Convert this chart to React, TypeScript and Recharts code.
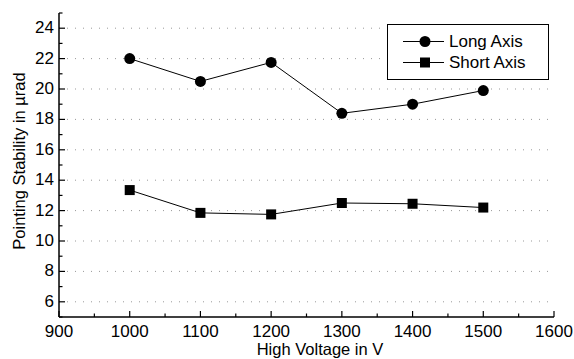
import { CartesianGrid, Label, Legend, Line, LineChart, XAxis, YAxis } from "recharts"

const voltages = [1000, 1100, 1200, 1300, 1400, 1500]
const longAxis = [22.0, 20.5, 21.75, 18.4, 19.0, 19.9]
const shortAxis = [13.35, 11.85, 11.75, 12.5, 12.45, 12.2]

const xMajorTicks = [900, 1000, 1100, 1200, 1300, 1400, 1500, 1600]
const xMinorTicks = [950, 1050, 1150, 1250, 1350, 1450, 1550]
const yMajorTicks = [6, 8, 10, 12, 14, 16, 18, 20, 22, 24]
const yMinorTicks = [5, 7, 9, 11, 13, 15, 17, 19, 21, 23, 25]

const xAllTicks = [...xMajorTicks, ...xMinorTicks].sort((a, b) => a - b)
const yAllTicks = [...yMajorTicks, ...yMinorTicks].sort((a, b) => a - b)

const data = voltages.map((v, i) => ({ voltage: v, long: longAxis[i], short: shortAxis[i] }))

const font = '"Liberation Sans", Arial, Helvetica, sans-serif'
const MAJOR = 6
const MINOR = 3.5

function BottomTick({ x, y, payload }: any) {
  const major = xMajorTicks.includes(payload.value)
  return (
    <g>
      <line x1={x} x2={x} y1={y} y2={y - (major ? MAJOR : MINOR)} stroke="#000" strokeWidth={1.2} />
      {major && (
        <text x={x} y={y + 20} textAnchor="middle" fontSize={17} fontFamily={font} fill="#000">
          {payload.value}
        </text>
      )}
    </g>
  )
}

function TopTick({ x, y, payload }: any) {
  const major = xMajorTicks.includes(payload.value)
  return <line x1={x} x2={x} y1={y} y2={y + (major ? MAJOR : MINOR)} stroke="#000" strokeWidth={1.2} />
}

function LeftTick({ x, y, payload }: any) {
  const major = yMajorTicks.includes(payload.value)
  return (
    <g>
      <line x1={x} x2={x + (major ? MAJOR : MINOR)} y1={y} y2={y} stroke="#000" strokeWidth={1.2} />
      {major && (
        <text x={x - 5} y={y + 5} textAnchor="end" fontSize={17} fontFamily={font} fill="#000">
          {payload.value}
        </text>
      )}
    </g>
  )
}

function RightTick({ x, y, payload }: any) {
  const major = yMajorTicks.includes(payload.value)
  return <line x1={x} x2={x - (major ? MAJOR : MINOR)} y1={y} y2={y} stroke="#000" strokeWidth={1.2} />
}

function SquareDot({ cx, cy, index }: any) {
  return <rect key={`sq-${index}`} x={cx - 5} y={cy - 5} width={10} height={10} fill="#000" />
}

function LegendBox({ payload }: any) {
  return (
    <div
      style={{
        border: "1px solid #000",
        background: "#fff",
        boxSizing: "border-box",
        width: 162,
        height: 56,
        paddingTop: 6,
        fontFamily: font,
        fontSize: 17,
        color: "#000",
      }}
    >
      {(payload || []).map((entry: any) => (
        <div key={entry.value} style={{ display: "flex", alignItems: "center", height: 21 }}>
          <svg width={61} height={21} style={{ display: "block" }}>
            <line x1={15} x2={56} y1={10.5} y2={10.5} stroke="#000" />
            {entry.value === "Long Axis" ? (
              <circle cx={37} cy={10.5} r={5.5} fill="#000" />
            ) : (
              <rect x={32} y={5.5} width={10} height={10} fill="#000" />
            )}
          </svg>
          <span style={{ lineHeight: "21px" }}>{entry.value}</span>
        </div>
      ))}
    </div>
  )
}

export default function App() {
  return (
    <div style={{ position: "absolute", left: 0, top: 0 }}>
      <LineChart width={574} height={359} data={data} margin={{ top: 13, right: 20, left: 0, bottom: 0 }}>
        <CartesianGrid vertical={false} horizontalValues={yMajorTicks} stroke="#999" strokeDasharray="1 7" />
        <XAxis
          dataKey="voltage"
          type="number"
          domain={[900, 1600]}
          ticks={xAllTicks}
          interval={0}
          height={42}
          tickSize={0}
          tickMargin={0}
          tickLine={false}
          tick={<BottomTick />}
          axisLine={{ stroke: "#000", strokeWidth: 1.5 }}
        >
          <Label
            content={() => (
              <text x={320} y={355} textAnchor="middle" fontSize={16.5} fontFamily={font} fill="#000">
                High Voltage in V
              </text>
            )}
          />
        </XAxis>
        <XAxis
          xAxisId="top"
          orientation="top"
          type="number"
          domain={[900, 1600]}
          ticks={xAllTicks}
          interval={0}
          height={0}
          tickSize={0}
          tickMargin={0}
          tickLine={false}
          tick={<TopTick />}
          axisLine={{ stroke: "#000", strokeWidth: 1.5 }}
        />
        <YAxis
          type="number"
          domain={[5, 25]}
          ticks={yAllTicks}
          interval={0}
          width={59}
          tickSize={0}
          tickMargin={0}
          tickLine={false}
          tick={<LeftTick />}
          axisLine={{ stroke: "#000", strokeWidth: 1.5 }}
        >
          <Label
            content={() => (
              <text
                x={25}
                y={161}
                transform="rotate(-90 25 161)"
                textAnchor="middle"
                fontSize={16.5}
                fontFamily={font}
                fill="#000"
              >
                Pointing Stability in µrad
              </text>
            )}
          />
        </YAxis>
        <YAxis
          yAxisId="right"
          orientation="right"
          type="number"
          domain={[5, 25]}
          ticks={yAllTicks}
          interval={0}
          width={0}
          tickSize={0}
          tickMargin={0}
          tickLine={false}
          tick={<RightTick />}
          axisLine={{ stroke: "#000", strokeWidth: 1.5 }}
        />
        <Legend
          layout="vertical"
          align="center"
          verticalAlign="middle"
          content={<LegendBox />}
          wrapperStyle={{ left: 387, top: 24, width: 162, height: 56 }}
        />
        <Line
          name="Long Axis"
          dataKey="long"
          stroke="#000"
          strokeWidth={1}
          dot={{ r: 5.5, fill: "#000", stroke: "#000", strokeWidth: 0 }}
          activeDot={false}
          isAnimationActive={false}
        />
        <Line
          name="Short Axis"
          dataKey="short"
          stroke="#000"
          strokeWidth={1}
          dot={<SquareDot />}
          activeDot={false}
          isAnimationActive={false}
        />
      </LineChart>
    </div>
  )
}
